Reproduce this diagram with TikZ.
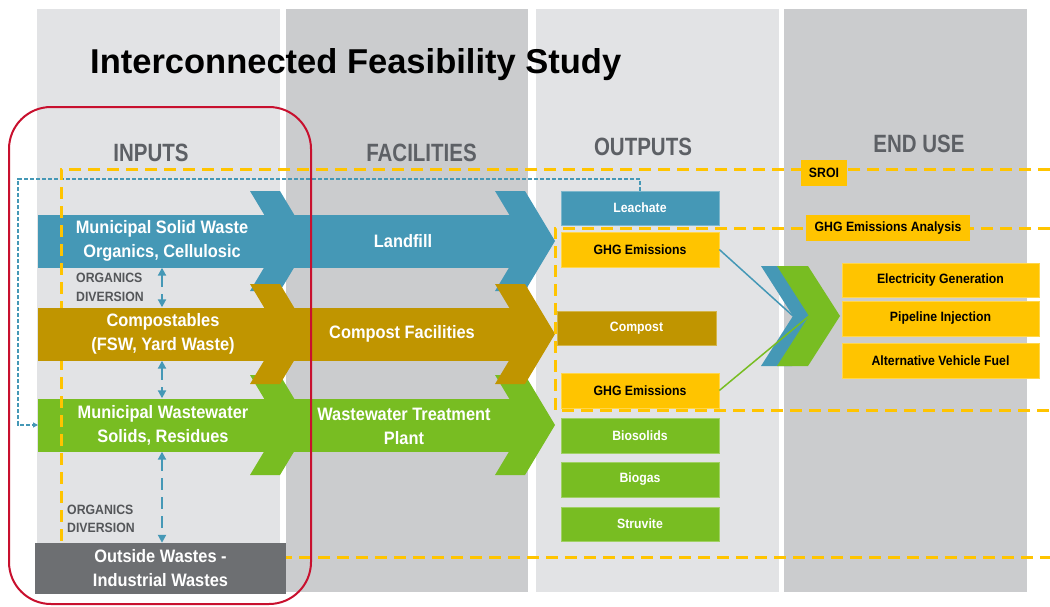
\documentclass[tikz,border=0pt]{standalone}
\usepackage{fontspec}
\setmainfont{Liberation Sans}
\newfontfamily\condf[FakeStretch=0.91]{Liberation Sans}
\newfontfamily\headf[FakeStretch=0.82]{Liberation Sans}
\usetikzlibrary{arrows.meta}

\definecolor{colA}{HTML}{E2E3E5}
\definecolor{colB}{HTML}{CBCCCE}
\definecolor{wblue}{HTML}{4598B6}
\definecolor{wgold}{HTML}{C09500}
\definecolor{wgreen}{HTML}{78BD22}
\definecolor{wyellow}{HTML}{FFC400}
\definecolor{wgray}{HTML}{6D6F72}
\definecolor{wred}{HTML}{C8102E}
\definecolor{headgray}{HTML}{5D6065}
\definecolor{labelgray}{HTML}{545659}

% chevron: colour, left x, centre y
\newcommand{\flowchev}[3]{%
  \fill[#1] (#2,#3-50) -- ++(30,0) -- ++(30,50) -- ++(-30,50) -- ++(-30,0) -- ++(30,-50) -- cycle;}

\begin{document}
\begin{tikzpicture}[x=1pt,y=-1pt,
  heading/.style={font=\headf\bfseries\fontsize{25}{25}\selectfont, text=headgray, inner sep=0},
  band/.style={minimum width=487, minimum height=53, inner sep=0, anchor=west},
  bandlabel/.style={font=\condf\bfseries\fontsize{18}{24}\selectfont, text=white, align=center, inner sep=0},
  smalllabel/.style={font=\condf\bfseries\fontsize{13.5}{18.5}\selectfont, text=labelgray, align=left, inner sep=0, anchor=west},
  boxtext/.style={font=\condf\bfseries\fontsize{13.5}{16}\selectfont, inner sep=0},
  outbox/.style={boxtext, minimum width=158, minimum height=34, line width=0.6},
  endbox/.style={boxtext, fill=wyellow, draw=wyellow!70!white, line width=0.6, minimum width=197, minimum height=34},
  tagbox/.style={boxtext, fill=wyellow, minimum height=26},
  ydash/.style={wyellow, line width=3, dash pattern=on 12pt off 7pt},
  divarrow/.style={wblue, line width=2.6, dash pattern=on 12pt off 7pt,
    {Triangle[length=8pt,width=8pt]}-{Triangle[length=8pt,width=8pt]}},
  feedback/.style={wblue, line width=1.1, dash pattern=on 4pt off 2pt, -{Triangle[length=5pt,width=5pt]}}
]
\useasboundingbox (0,0) rectangle (1050,606);
\fill[white] (0,0) rectangle (1050,606);

% column backgrounds
\fill[colA] (37,9) rectangle (280,592);
\fill[colB] (286,9) rectangle (528,592);
\fill[colA] (536,9) rectangle (779,592);
\fill[colB] (784,9) rectangle (1027,592);

% title and column headings
\node[anchor=base west, font=\bfseries\fontsize{34.5}{40}\selectfont, inner sep=0] (title) at (90,73) {Interconnected Feasibility Study};
\node[heading] (hin) at (151,152.5) {INPUTS};
\node[heading] (hfac) at (421.5,152.5) {FACILITIES};
\node[heading] (hout) at (643,146.5) {OUTPUTS};
\node[heading] (hend) at (919,144) {END USE};

% output boxes
\node[outbox, fill=wblue, draw=wblue!70!white, text=white] (leach) at (640,208) {Leachate};
\node[outbox, fill=wyellow, draw=wyellow!70!white, minimum height=35] (ghg1) at (640,249.5) {GHG Emissions};
\node[outbox, fill=wgold, draw=wgold!70!white, text=white, minimum width=159] (compost) at (636.5,328) {Compost};
\node[outbox, fill=wyellow, draw=wyellow!70!white, minimum height=35] (ghg2) at (640,390.5) {GHG Emissions};
\node[outbox, fill=wgreen, draw=wgreen!70!white, text=white, minimum height=35] (biosolids) at (640,435.5) {Biosolids};
\node[outbox, fill=wgreen, draw=wgreen!70!white, text=white, minimum height=35] (biogas) at (640,479.5) {Biogas};
\node[outbox, fill=wgreen, draw=wgreen!70!white, text=white] (struvite) at (640,524) {Struvite};

% leachate recirculation to the wastewater stream
\coordinate (fbcorner) at (18,179);

% landfill stream
\node[band, fill=wblue] (band1) at (38,241) {};
\flowchev{wblue}{250}{241}
\flowchev{wblue}{495}{241}

% wastewater stream
\node[band, fill=wgreen] (band3) at (38,425) {};
\flowchev{wgreen}{250}{425}
\flowchev{wgreen}{495}{425}

\draw[feedback] (leach.north) |- (fbcorner) |- (band3.west);

% SROI boundary
\draw[ydash] (1050,169) -- (61,169) -- (61,557) -- (1050,557);

% compost stream
\node[band, fill=wgold] (band2) at (38,334) {};
\flowchev{wgold}{250}{334}
\flowchev{wgold}{495}{334}

% GHG emissions analysis boundary
\draw[ydash] (1050,228) -- (555,228) -- (555,410) -- (1050,410);

% stream labels
\node[bandlabel] (in1) at (162,241) {Municipal Solid Waste\\Organics, Cellulosic};
\node[bandlabel] (in2) at (163,334) {Compostables\\(FSW, Yard Waste)};
\node[bandlabel] (in3) at (163,425) {Municipal Wastewater\\Solids, Residues};
\node[bandlabel] (fac1) at (403,241) {Landfill};
\node[bandlabel] (fac2) at (402,334) {Compost Facilities};
\node[bandlabel] (fac3) at (404,426) {Wastewater Treatment\\Plant};

% outside wastes
\node[fill=wgray, minimum width=251, minimum height=51, inner sep=0, bandlabel, align=center] (outw) at (160.5,568.5) {Outside Wastes -\\Industrial Wastes};

% organics diversion arrows
\coordinate (divx) at (162,0);
\draw[divarrow] (band1.south -| divx) -- (band2.north -| divx);
\draw[divarrow] (band2.south -| divx) -- (band3.north -| divx);
\draw[divarrow] (band3.south -| divx) -- (outw.north -| divx);
\node[smalllabel] (div1) at (76,287.5) {ORGANICS\\DIVERSION};
\node[smalllabel] (div2) at (67,519) {ORGANICS\\DIVERSION};

% analysis tags
\node[tagbox, minimum width=46] (sroi) at (824,173) {SROI};
\node[tagbox, minimum width=164] (ghga) at (888,228) {GHG Emissions Analysis};

% biogas merge chevrons
\fill[wblue] (761,266) -- ++(31,0) -- ++(32,50) -- ++(-32,50) -- ++(-31,0) -- ++(32,-50) -- cycle;
\coordinate (bluenotch) at (793,316);
\fill[wgreen] (777,266) -- ++(31,0) -- ++(32,50) -- ++(-32,50) -- ++(-31,0) -- ++(32,-50) -- cycle;
\coordinate (greennotch) at (809,316);
\draw[wblue, line width=1.5] (ghg1.east) -- (bluenotch);
\draw[wgreen, line width=1.5] (ghg2.east) -- (greennotch);

% end uses
\node[endbox] (elec) at (940.5,280) {Electricity Generation};
\node[endbox, minimum height=35] (pipe) at (940.5,318.5) {Pipeline Injection};
\node[endbox, minimum height=35] (fuel) at (940.5,360.5) {Alternative Vehicle Fuel};

% study focus outline
\draw[wred, line width=2, rounded corners=42] (9,107) rectangle (311,604);
\end{tikzpicture}
\end{document}
